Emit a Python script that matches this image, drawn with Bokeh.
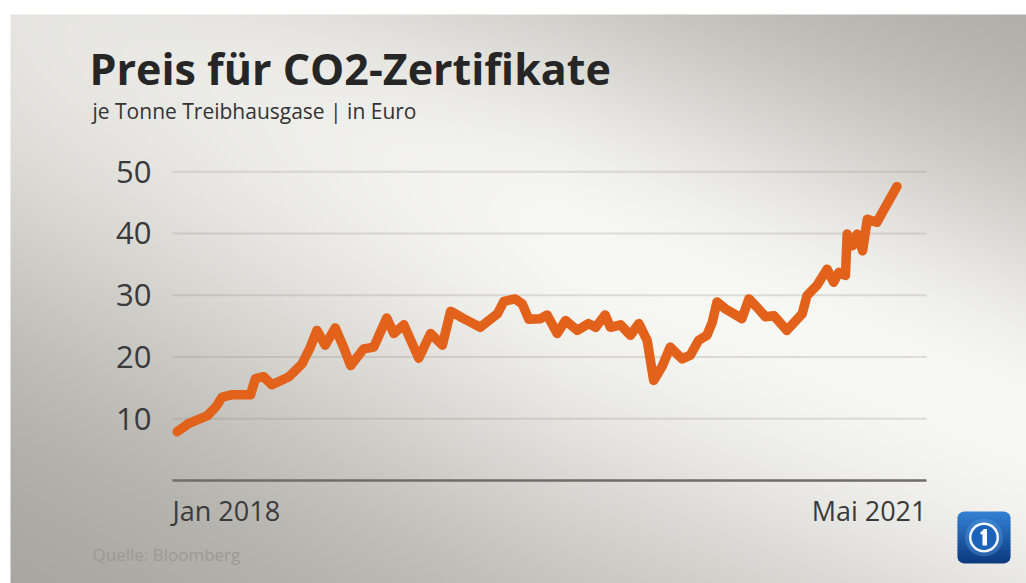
import math
import numpy as np
import pandas as pd
from bokeh.plotting import figure
from bokeh.models import (Range1d, FixedTicker, Label, PolyAnnotation,
                          ColumnDataSource)
from bokeh.embed import file_html
from bokeh.resources import INLINE

# ---------------- data ----------------
TITLE = "Preis für CO2-Zertifikate"
SUBTITLE = "je Tonne Treibhausgase | in Euro"
SOURCE_NOTE = "Quelle: Bloomberg"

dates = ["2018-01-01", "2018-01-20", "2018-02-21", "2018-03-07", "2018-03-18",
         "2018-04-04", "2018-05-05", "2018-05-13", "2018-05-27", "2018-06-10",
         "2018-07-09", "2018-07-31", "2018-08-14", "2018-08-25", "2018-09-08",
         "2018-09-25", "2018-10-09", "2018-10-21", "2018-11-12", "2018-11-29",
         "2018-12-21", "2019-01-02", "2019-01-19", "2019-02-13", "2019-03-05",
         "2019-03-25", "2019-04-08", "2019-04-30", "2019-05-28", "2019-06-26",
         "2019-07-07", "2019-07-26", "2019-08-07", "2019-08-18", "2019-09-07",
         "2019-09-18", "2019-10-05", "2019-10-19", "2019-11-08", "2019-11-27",
         "2019-12-09", "2019-12-25", "2020-01-03", "2020-01-20", "2020-02-06",
         "2020-02-20", "2020-03-05", "2020-03-16", "2020-03-30", "2020-04-13",
         "2020-05-03", "2020-05-17", "2020-05-31", "2020-06-14", "2020-06-23",
         "2020-07-01", "2020-07-15", "2020-07-24", "2020-08-12", "2020-08-24",
         "2020-09-09", "2020-09-21", "2020-10-05", "2020-10-27", "2020-11-22",
         "2020-11-30", "2020-12-17", "2021-01-03", "2021-01-14", "2021-01-23",
         "2021-02-03", "2021-02-06", "2021-02-15", "2021-02-23", "2021-03-04",
         "2021-03-12", "2021-03-28", "2021-05-01"]

prices = [7.9, 9.2, 10.5, 11.9, 13.5, 13.9, 13.9, 16.5, 16.8, 15.5,
          16.8, 18.9, 21.6, 24.3, 21.9, 24.7, 21.6, 18.6, 21.3, 21.6,
          26.3, 23.8, 25.2, 19.8, 23.8, 21.9, 27.4, 26.2, 24.8, 27.0,
          29.0, 29.4, 28.6, 26.1, 26.2, 26.8, 23.8, 25.9, 24.3, 25.4,
          24.8, 26.8, 24.8, 25.2, 23.5, 25.4, 22.7, 16.2, 18.4, 21.6,
          19.7, 20.3, 22.7, 23.5, 25.6, 28.9, 27.8, 27.3, 26.2, 29.4,
          27.8, 26.5, 26.7, 24.3, 27.0, 29.9, 31.6, 34.2, 32.1, 33.7,
          33.2, 39.9, 38.0, 39.9, 37.2, 42.3, 41.8, 47.6]

y_ticks = [10, 20, 30, 40, 50]
x_tick_labels = ["Jan 2018", "Mai 2021"]
X_START, X_END = "2017-12-24", "2021-06-20"   # extent of the plot area
Y_START, Y_END = 0, 53.1

# ---------------- layout (canvas pixels) ----------------
W, H = 1026, 583
PL, PT, PW, PH = 172, 152, 754, 328     # plot area inside the canvas
PB = PT + PH

x0 = pd.Timestamp(X_START).value / 1e6
x1 = pd.Timestamp(X_END).value / 1e6


def dx(px):
    return x0 + (px - PL) / PW * (x1 - x0)


def dy(py):
    return Y_START + (PB - py) / PH * (Y_END - Y_START)


p = figure(frame_width=W, frame_height=H, x_axis_type="datetime",
           x_range=Range1d(start=dx(0), end=dx(W)),
           y_range=Range1d(start=dy(H), end=dy(0)),
           output_backend="svg", toolbar_location=None,
           min_border_left=0, min_border_top=0, min_border_right=0, min_border_bottom=0,
           border_fill_color="white", background_fill_color="white",
           outline_line_color=None)

# ---------------- background gradient (image) ----------------
STEP = 2
gx = np.arange(0, W, STEP) + STEP / 2
gy = np.arange(0, H, STEP) + STEP / 2
GX, GY = np.meshgrid(gx, gy[::-1])          # row 0 = bottom of canvas
ul = math.hypot(1, 0.4)
U = (1 / ul, 0.4 / ul)
NV = (-U[1], U[0])
D = (GX - 100) * NV[0] + (GY - 50) * NV[1]
SIG = np.where(D < 0, 250.0, 330.0)
B = np.exp(-(D / SIG) ** 2)
DARK = np.array([168, 166, 160], dtype=float)
BRIGHT = np.array([247, 247, 243], dtype=float)
COL = DARK[None, None, :] + (BRIGHT - DARK)[None, None, :] * B[..., None]
A = np.clip(1 - (GX - 11) / 549, 0, 1) * 0.17
SHADE = np.array([140, 136, 128], dtype=float)
COL = COL * (1 - A[..., None]) + SHADE[None, None, :] * A[..., None]
white = (GX < 11) | (GY < 15)
COL[white] = 255
rgba = np.empty(GX.shape, dtype=np.uint32)
view = rgba.view(dtype=np.uint8).reshape(GX.shape + (4,))
view[..., 0:3] = np.clip(np.round(COL), 0, 255).astype(np.uint8)
view[..., 3] = 255
p.image_rgba(image=[rgba], x=dx(0), y=dy(H), dw=dx(W) - dx(0), dh=dy(0) - dy(H), level="image")

# ---------------- grid lines ----------------
grid_src = ColumnDataSource(dict(y=y_ticks, xa=[x0] * len(y_ticks), xb=[x1] * len(y_ticks)))
p.segment(x0="xa", x1="xb", y0="y", y1="y", source=grid_src,
          line_color="#8a877f", line_alpha=0.24, line_width=2)
p.xgrid.visible = False
p.ygrid.visible = False

# ---------------- axes ----------------
yax = p.yaxis[0]
yax.fixed_location = x0
yax.ticker = FixedTicker(ticks=y_ticks)
yax.axis_line_color = None
yax.major_tick_line_color = None
yax.minor_tick_line_color = None
yax.major_label_standoff = 15
yax.major_label_text_font = "Open Sans"
yax.major_label_text_font_size = "31px"
yax.major_label_text_color = "#3a3a3a"

xax = p.xaxis[0]
xax.fixed_location = 0
xax.bounds = (x0, x1)
xax.ticker = FixedTicker(ticks=[])
xax.axis_line_color = "#6f6d68"
xax.axis_line_width = 2.5
xax.major_tick_line_color = None
xax.minor_tick_line_color = None
xax.major_label_text_alpha = 0

# ---------------- the line ----------------
src = ColumnDataSource(dict(date=pd.to_datetime(dates), price=prices))
p.line(x="date", y="price", source=src, line_color="#e2621b", line_width=9.5,
       line_join="round", line_cap="round")

# ---------------- texts ----------------
FONT = "Open Sans"
p.add_layout(Label(x=dx(89), y=dy(68), text=TITLE, text_font=FONT, text_font_style="bold",
                   text_font_size="43px", text_color="#262626",
                   text_baseline="alphabetic", text_align="left"))
p.add_layout(Label(x=dx(92), y=dy(110), text=SUBTITLE, text_font=FONT,
                   text_font_size="21px", text_color="#333333",
                   text_baseline="alphabetic", text_align="left"))
p.add_layout(Label(x=x0, y=dy(510), text=x_tick_labels[0], text_font=FONT,
                   text_font_size="27px", text_color="#3a3a3a",
                   text_baseline="alphabetic", text_align="left"))
p.add_layout(Label(x=x1, y=dy(510), text=x_tick_labels[1], text_font=FONT,
                   text_font_size="27px", text_color="#3a3a3a",
                   text_baseline="alphabetic", text_align="right"))
p.add_layout(Label(x=dx(92), y=dy(554), text=SOURCE_NOTE, text_font=FONT,
                   text_font_size="17px", text_color="#9b9993",
                   text_baseline="alphabetic", text_align="left"))


# ---------------- logo ----------------
def clip_half(poly, f):
    out = []
    for i in range(len(poly)):
        cur, prev = poly[i], poly[i - 1]
        fc, fp = f(cur), f(prev)
        if fc >= 0:
            if fp < 0:
                t = fp / (fp - fc)
                out.append((prev[0] + t * (cur[0] - prev[0]), prev[1] + t * (cur[1] - prev[1])))
            out.append(cur)
        elif fp >= 0:
            t = fp / (fp - fc)
            out.append((prev[0] + t * (cur[0] - prev[0]), prev[1] + t * (cur[1] - prev[1])))
    return out


def clip_convex(poly, conv):
    area = sum(conv[i - 1][0] * conv[i][1] - conv[i][0] * conv[i - 1][1] for i in range(len(conv)))
    s = 1 if area > 0 else -1
    for i in range(len(conv)):
        a, b = conv[i - 1], conv[i]

        def f(pt, a=a, b=b):
            return s * ((b[0] - a[0]) * (pt[1] - a[1]) - (b[1] - a[1]) * (pt[0] - a[0]))
        poly = clip_half(poly, f)
        if not poly:
            break
    return poly


def add_poly(pts, color, alpha=1.0):
    if len(pts) < 3:
        return
    p.add_layout(PolyAnnotation(xs=[dx(a) for a, _ in pts], ys=[dy(b) for _, b in pts],
                                fill_color=color, fill_alpha=alpha, line_color=None))


def hexc(c):
    return "#%02x%02x%02x" % tuple(int(round(v)) for v in c)


def rounded_rect(xa, ya, xb, yb, r, seg=8):
    pts = []
    corners = [(xb - r, ya + r, -90, 0), (xb - r, yb - r, 0, 90),
               (xa + r, yb - r, 90, 180), (xa + r, ya + r, 180, 270)]
    for cx, cy, a0, a1 in corners:
        for j in range(seg + 1):
            a = math.radians(a0 + (a1 - a0) * j / seg)
            pts.append((cx + r * math.cos(a), cy + r * math.sin(a)))
    return pts


def circle(cx, cy, r, n=48):
    return [(cx + r * math.cos(2 * math.pi * j / n), cy + r * math.sin(2 * math.pi * j / n)) for j in range(n)]


LX0, LY0, LX1, LY1, LR = 957, 511, 1010, 563, 7
logo = rounded_rect(LX0, LY0, LX1, LY1, LR)
top_c, bot_c = (52, 130, 212), (12, 58, 128)
nb = 16
for j in range(nb):
    ya = LY0 + (LY1 - LY0) * j / nb - 0.4
    yb = LY0 + (LY1 - LY0) * (j + 1) / nb + 0.4
    t = (j + 0.5) / nb
    col = tuple(top_c[i] + (bot_c[i] - top_c[i]) * t for i in range(3))
    add_poly(clip_convex([(LX0 - 2, ya), (LX1 + 2, ya), (LX1 + 2, yb), (LX0 - 2, yb)], logo), hexc(col))
cx, cy = 983.5, 537
add_poly(circle(cx, cy, 19), "#5aa0e6", 0.35)
add_poly(circle(cx, cy, 15), "#ffffff", 0.95)
add_poly(circle(cx, cy, 12.5), "#1c63ba", 1.0)
add_poly([(982, 545), (986.5, 545), (986.5, 528.5), (983.5, 528.5), (979.5, 532.5),
          (981, 534.2), (982, 533.2)], "#ffffff", 1.0)

open("out.html", "w").write(file_html(p, INLINE))
